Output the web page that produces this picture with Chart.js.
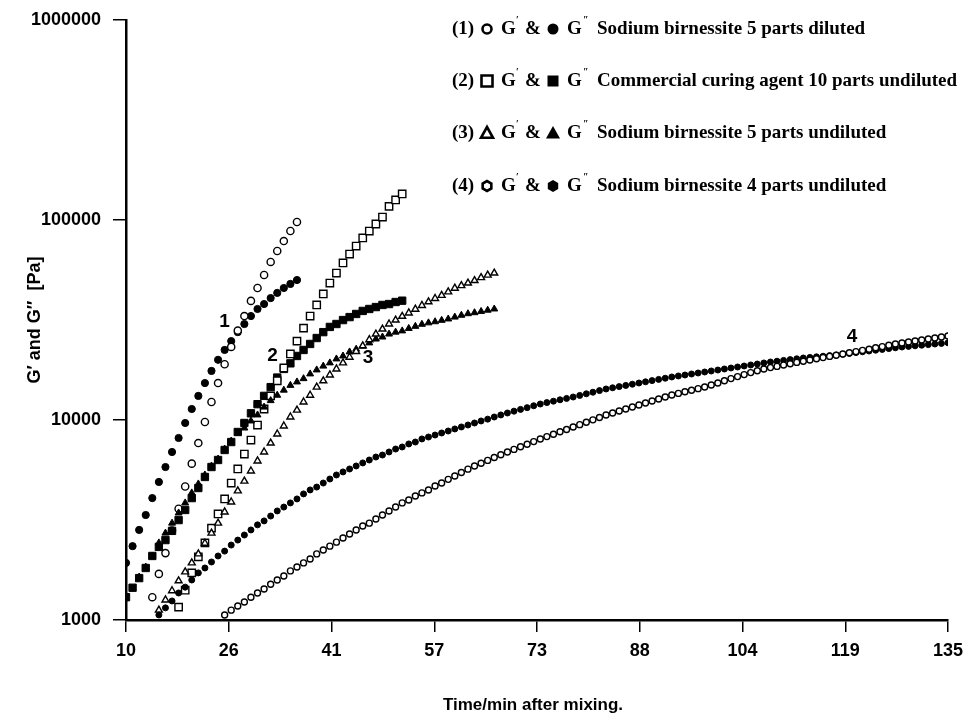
<!DOCTYPE html>
<html>
<head>
<meta charset="utf-8">
<script src="https://cdn.jsdelivr.net/npm/chart.js@4.4.0/dist/chart.umd.min.js"></script>
<style>
  html, body { margin: 0; padding: 0; background: #fff; }
</style>
</head>
<body>
<canvas id="chart" width="963" height="721"></canvas>
<script>
// tick labels of the time axis (9 evenly spaced ticks from 10 to 135 min)
const xTickLabels = ['10', '26', '41', '57', '73', '88', '104', '119', '135'];
const yTickValues = [1000, 10000, 100000, 1000000];

// first minute of each series, then one reading per minute
// (1) Sodium birnessite 5 parts diluted
const s1Start = 14, s1LossStart = 10;
const s1Storage = [1300, 1700, 2160, 2800, 3600, 4650, 6050, 7670, 9770, 12300, 15300, 19000,
  23200, 28000, 33100, 39400, 45700, 53100, 61700, 70000, 78500, 88100, 97700];
const s1Loss = [1930, 2340, 2820, 3350, 4070, 4900, 5820, 6920, 8130, 9660, 11350, 13200, 15300,
  17600, 20000, 22400, 24800, 27500, 30200, 33100, 35900, 38000, 40700, 43200, 45700, 47900, 50100];

// (2) Commercial curing agent 10 parts undiluted
const s2Start = 18, s2LossStart = 10;
const s2Storage = [1160, 1410, 1720, 2070, 2430, 2880, 3390, 4030, 4840, 5690, 6760, 7940, 9440,
  11350, 13200, 15700, 18200, 21400, 24800, 28800, 33100, 37600, 42700, 48400, 54300, 61000,
  67600, 74100, 81300, 88100, 95500, 103500, 117000, 126000, 135000];
const s2Loss = [1300, 1450, 1620, 1820, 2090, 2320, 2510, 2790, 3160, 3550, 4070, 4570, 5190,
  5820, 6310, 7080, 7760, 8710, 9660, 10800, 12000, 13200, 14600, 16300, 18000, 19200, 20900,
  22400, 24000, 25700, 27500, 29200, 30200, 31600, 32700, 33900, 35100, 35900, 36700, 37600,
  38000, 38900, 39500];

// (3) Sodium birnessite 5 parts undiluted
const s3Start = 15, s3LossStart = 12;
const s3Storage = [1120, 1260, 1400, 1570, 1740, 1930, 2140, 2420, 2720, 3050, 3470, 3890, 4420,
  4950, 5560, 6240, 6920, 7670, 8510, 9330, 10350, 11200, 12300, 13300, 14600, 15700, 16800,
  18000, 19300, 20600, 22000, 23500, 25200, 26900, 28500, 30200, 31600, 33000, 34300, 35800,
  37400, 39000, 40500, 42000, 43700, 45600, 47000, 48400, 49800, 51500, 53000, 54300];
const s3Loss = [1640, 1840, 2090, 2430, 2720, 3050, 3430, 3850, 4320, 4790, 5310, 5890, 6380,
  7160, 7850, 8610, 9120, 9890, 10600, 11600, 12500, 13300, 14100, 14900, 15500, 16100, 17000,
  17800, 18600, 19300, 20200, 20900, 21900, 22600, 23400, 24300, 25400, 26000, 26900, 27500,
  27900, 28700, 29400, 30100, 30600, 31000, 31500, 32000, 32700, 33400, 34000, 34400, 34900,
  35400, 35900];

// (4) Sodium birnessite 4 parts undiluted
const s4Start = 25, s4LossStart = 15;
const s4Storage = [1060, 1120, 1175, 1230, 1300, 1365, 1430, 1510, 1585, 1660, 1760, 1840, 1930,
  2020, 2140, 2240, 2340, 2450, 2570, 2690, 2820, 2950, 3050, 3200, 3350, 3510, 3670, 3850,
  3980, 4170, 4320, 4470, 4680, 4840, 5050, 5250, 5460, 5680, 5890, 6080, 6280, 6490, 6700,
  6920, 7130, 7350, 7570, 7800, 8040, 8260, 8490, 8730, 8970, 9230, 9480, 9750, 10020, 10300,
  10590, 10840, 11090, 11350, 11610, 11890, 12160, 12450, 12740, 13030, 13340, 13580, 13840,
  14090, 14350, 14620, 14960, 15310, 15700, 16110, 16480, 16870, 17260, 17620, 17990, 18280,
  18540, 18840, 19100, 19410, 19680, 19950, 20230, 20510, 20800, 21090, 21380, 21680, 21980,
  22280, 22590, 22960, 23280, 23660, 23990, 24270, 24550, 24830, 25120, 25410, 25700, 26000,
  26300];
const s4Loss = [1060, 1150, 1245, 1365, 1460, 1585, 1720, 1820, 1950, 2090, 2210, 2370, 2510,
  2660, 2820, 2990, 3130, 3310, 3510, 3670, 3850, 4030, 4270, 4470, 4620, 4840, 5070, 5310,
  5500, 5690, 5890, 6100, 6310, 6530, 6680, 6920, 7160, 7330, 7590, 7760, 8040, 8220, 8410,
  8610, 8810, 9020, 9230, 9440, 9660, 9890, 10100, 10350, 10600, 10840, 11070, 11300, 11530,
  11780, 12020, 12220, 12420, 12620, 12820, 13030, 13270, 13520, 13770, 14030, 14290, 14490,
  14690, 14890, 15100, 15310, 15520, 15740, 15960, 16180, 16410, 16600, 16790, 16980, 17180,
  17380, 17580, 17780, 17990, 18200, 18410, 18620, 18840, 19050, 19280, 19500, 19680, 19860,
  20040, 20230, 20420, 20560, 20700, 20840, 20990, 21130, 21330, 21530, 21730, 21930, 22130,
  22340, 22540, 22750, 22960, 23170, 23330, 23500, 23660, 23820, 23990, 24150, 24320];

const legendTexts = [
  'Sodium birnessite 5 parts diluted',
  'Commercial curing agent 10 parts undiluted',
  'Sodium birnessite 5 parts undiluted',
  'Sodium birnessite 4 parts undiluted'
];

// curve numbers, placed in data units
const curveLabels = [
  { text: '1', t: 25.0, v: 30900 },
  { text: '2', t: 32.3, v: 20900 },
  { text: '3', t: 46.8, v: 20400 },
  { text: '4', t: 120.4, v: 26000 }
];

const SANS = "'Liberation Sans', Arial, sans-serif";
const SERIF = "'Liberation Serif', 'Times New Roman', serif";

function toPoints(start, values) {
  return values.map((v, i) => ({ x: start + i, y: v }));
}

function ds(label, start, values, style, radius, open) {
  return {
    label: label,
    data: toPoints(start, values),
    pointStyle: style,
    pointRadius: radius,
    pointHoverRadius: radius,
    pointBorderWidth: open ? 1.4 : 1,
    pointBorderColor: '#000',
    pointBackgroundColor: open ? '#fff' : '#000',
    showLine: false
  };
}

const datasets = [
  ds('4 G\'', s4Start, s4Storage, 'circle', 3, true),
  ds('4 G\'\'', s4LossStart, s4Loss, 'circle', 3, false),
  ds('3 G\'', s3Start, s3Storage, 'triangle', 4, true),
  ds('3 G\'\'', s3LossStart, s3Loss, 'triangle', 4, false),
  ds('2 G\'', s2Start, s2Storage, 'rect', 5.2, true),
  ds('2 G\'\'', s2LossStart, s2Loss, 'rect', 5.2, false),
  ds('1 G\'', s1Start, s1Storage, 'circle', 3.6, true),
  ds('1 G\'\'', s1LossStart, s1Loss, 'circle', 3.6, false)
];

function marker(ctx, kind, x, y, filled) {
  ctx.save();
  ctx.beginPath();
  if (kind === 'circle') {
    ctx.arc(x, y, filled ? 5.5 : 4.5, 0, Math.PI * 2);
  } else if (kind === 'rect') {
    ctx.rect(x - 5.5, y - 5.5, 11, 11);
  } else if (kind === 'triangle') {
    const h = filled ? 7 : 6;
    ctx.moveTo(x, y - h);
    ctx.lineTo(x + h, y + h * 0.8);
    ctx.lineTo(x - h, y + h * 0.8);
    ctx.closePath();
  } else {
    const r = filled ? 6 : 5;
    for (let k = 0; k < 6; k++) {
      const a = Math.PI / 6 + k * Math.PI / 3;
      const px = x + r * Math.cos(a), py = y + r * Math.sin(a);
      if (k === 0) ctx.moveTo(px, py); else ctx.lineTo(px, py);
    }
    ctx.closePath();
  }
  if (filled) {
    ctx.fillStyle = '#000';
    ctx.fill();
  } else {
    ctx.fillStyle = '#fff';
    ctx.fill();
    ctx.lineWidth = 2.6;
    ctx.strokeStyle = '#000';
    ctx.stroke();
  }
  ctx.restore();
}

const decorations = {
  id: 'decorations',
  afterDraw(chart) {
    const ctx = chart.ctx;
    const xs = chart.scales.x, ys = chart.scales.y;
    ctx.save();
    ctx.fillStyle = '#000';

    // axis titles
    ctx.font = 'bold 17px ' + SANS;
    ctx.textAlign = 'center';
    ctx.textBaseline = 'middle';
    ctx.fillText('Time/min after mixing.', 533, 705);
    ctx.save();
    ctx.translate(35, 320);
    ctx.rotate(-Math.PI / 2);
    ctx.font = 'bold 18px ' + SANS;
    ctx.fillText('G\u2032 and G\u2033  [Pa]', 0, 0);
    ctx.restore();

    // curve numbers
    ctx.font = 'bold 19px ' + SANS;
    curveLabels.forEach(l => {
      ctx.fillText(l.text, xs.getPixelForValue(l.t), ys.getPixelForValue(l.v));
    });

    // legend block
    const kinds = ['circle', 'rect', 'triangle', 'hex'];
    const rowY = [29, 81, 133, 186];
    ctx.textAlign = 'left';
    ctx.textBaseline = 'middle';
    legendTexts.forEach((txt, i) => {
      const y = rowY[i];
      ctx.font = 'bold 19px ' + SERIF;
      ctx.fillText('(' + (i + 1) + ')', 452, y);
      marker(ctx, kinds[i], 487, y, false);
      ctx.fillText('G', 501, y);
      ctx.fillText('&', 525, y);
      marker(ctx, kinds[i], 553, y, true);
      ctx.fillText('G', 567, y);
      ctx.fillText(txt, 597, y);
      ctx.font = 'bold 10px ' + SERIF;
      ctx.fillText('\u2032', 516, y - 9);
      ctx.fillText('\u2033', 583, y - 9);
    });
    ctx.restore();
  }
};

new Chart(document.getElementById('chart'), {
  type: 'scatter',
  data: { datasets: datasets },
  options: {
    responsive: false,
    animation: false,
    layout: { padding: { left: 0, top: 20, right: 15, bottom: 0 } },
    plugins: { legend: { display: false }, tooltip: { enabled: false } },
    scales: {
      x: {
        type: 'linear',
        min: 10,
        max: 135,
        afterBuildTicks(scale) {
          scale.ticks = xTickLabels.map((_, i) => ({ value: 10 + i * 125 / 8 }));
        },
        afterFit(scale) {
          scale.height = 101;
          scale.paddingLeft = 0;
          scale.paddingRight = 0;
        },
        ticks: {
          autoSkip: false,
          maxRotation: 0,
          padding: 8,
          color: '#000',
          font: { family: SANS, size: 18, weight: 'bold' },
          callback: (v, i) => xTickLabels[i]
        },
        grid: { drawOnChartArea: false, tickLength: 12, color: '#000', lineWidth: 1.5 },
        border: { color: '#000', width: 2.5 }
      },
      y: {
        type: 'logarithmic',
        min: 1000,
        max: 1000000,
        afterBuildTicks(scale) {
          scale.ticks = yTickValues.map(v => ({ value: v }));
        },
        afterFit(scale) {
          scale.width = 126;
          scale.paddingTop = 0;
          scale.paddingBottom = 0;
        },
        ticks: {
          autoSkip: false,
          padding: 12,
          color: '#000',
          font: { family: SANS, size: 18, weight: 'bold' },
          callback: v => String(v)
        },
        grid: { drawOnChartArea: false, tickLength: 13, color: '#000', lineWidth: 1.5 },
        border: { color: '#000', width: 2.5 }
      }
    }
  },
  plugins: [decorations]
});
</script>
</body>
</html>
